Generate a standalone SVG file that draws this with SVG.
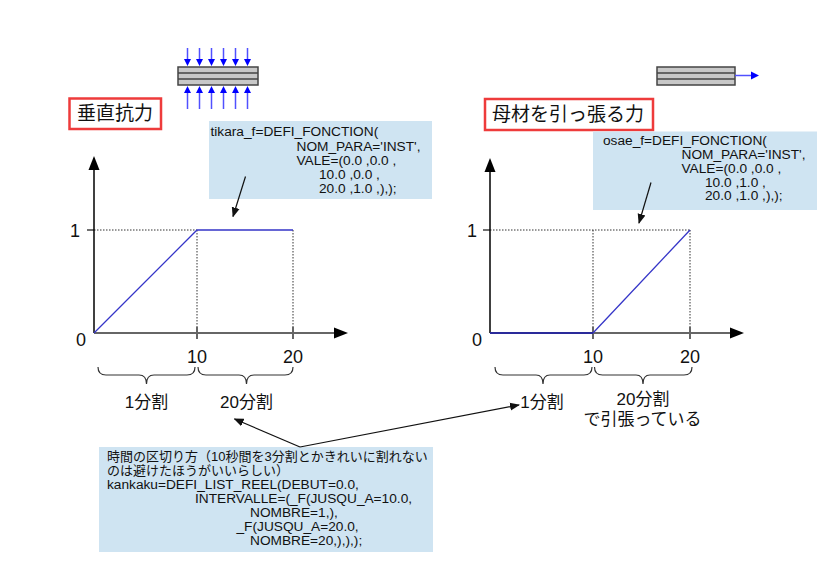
<svg xmlns="http://www.w3.org/2000/svg" width="828" height="562" viewBox="0 0 828 562">
<style>
.code{font-family:"Liberation Sans","Noto Sans CJK JP",sans-serif;font-size:13.7px;fill:#111}
.jp{font-size:13px}
.title{font-family:"Noto Sans CJK JP",sans-serif;font-size:19px;fill:#111}
.lbl{font-family:"Liberation Sans","Noto Sans CJK JP",sans-serif;font-size:17px;fill:#111;text-anchor:middle}
.num{font-family:"Liberation Sans",sans-serif;font-size:18px;fill:#111;text-anchor:middle}
.box{fill:#cfe4f2;stroke:none}
.tbox{fill:#fff;stroke:#ee3b3b;stroke-width:2.5}
.beam{fill:#c8c8c8;stroke:#444;stroke-width:1.5}
.bl{stroke:#5050ff;stroke-width:1.5;fill:none}
.dot{stroke:#333;stroke-width:1;stroke-dasharray:1.5,1.5;fill:none}
.xax{stroke:#666;stroke-width:2;fill:none}
.yax{stroke:#000;stroke-width:1.5;fill:none}
.fn{stroke:#3535c8;stroke-width:1.3;fill:none}
.brace{stroke:#333;stroke-width:1.2;fill:none}
.con{stroke:#111;stroke-width:1.2;fill:none}
</style>
<defs>
<marker id="ah" markerWidth="10" markerHeight="10" refX="9" refY="5" orient="auto" markerUnits="userSpaceOnUse">
<path d="M0,1 L10,5 L0,9 Z" fill="#111"/>
</marker>
</defs>

<g id="beam-left">
<rect class="beam" x="178" y="67" width="80" height="18"/>
<line x1="178" y1="73" x2="258" y2="73" stroke="#444" stroke-width="1.5"/>
<line x1="178" y1="79" x2="258" y2="79" stroke="#444" stroke-width="1.5"/>
<g id="press-arrows">
<path class="bl" d="M187.5,48V60 M199.5,48V60 M211.5,48V60 M223.5,48V60 M235.5,48V60 M247.5,48V60"/>
<path fill="#0000ff" d="M184,59h7l-3.5,7z M196,59h7l-3.5,7z M208,59h7l-3.5,7z M220,59h7l-3.5,7z M232,59h7l-3.5,7z M244,59h7l-3.5,7z"/>
<path class="bl" d="M187.5,92V109 M199.5,92V109 M211.5,92V109 M223.5,92V109 M235.5,92V109 M247.5,92V109"/>
<path fill="#0000ff" d="M184,93h7l-3.5,-7z M196,93h7l-3.5,-7z M208,93h7l-3.5,-7z M220,93h7l-3.5,-7z M232,93h7l-3.5,-7z M244,93h7l-3.5,-7z"/>
</g>
</g>

<g id="beam-right">
<rect class="beam" x="657" y="67" width="78" height="18"/>
<line x1="657" y1="73" x2="735" y2="73" stroke="#444" stroke-width="1.5"/>
<line x1="657" y1="79" x2="735" y2="79" stroke="#444" stroke-width="1.5"/>
<line class="bl" x1="735" y1="75.5" x2="752" y2="75.5"/>
<path fill="#0000ff" d="M751,71.5 L759,75.5 L751,79.5 Z"/>
</g>

<g id="title-left">
<rect class="tbox" x="69.5" y="98.5" width="91.5" height="30.5"/>
<text class="title" x="77" y="120">垂直抗力</text>
</g>
<g id="title-right">
<rect class="tbox" x="485" y="99" width="168" height="31"/>
<text class="title" x="492" y="120.5">母材を引っ張る力</text>
</g>

<g id="code-left">
<rect class="box" x="209" y="121" width="223" height="78"/>
<text class="code" x="210.5" y="136">tikara_f=DEFI_FONCTION(</text>
<text class="code" x="296.5" y="150.5">NOM_PARA='INST',</text>
<text class="code" x="296.5" y="164.5">VALE=(0.0 ,0.0 ,</text>
<text class="code" x="319" y="178.5">10.0 ,0.0 ,</text>
<text class="code" x="319" y="192.5">20.0 ,1.0 ,),);</text>
</g>

<g id="code-right">
<rect class="box" x="593" y="131.5" width="224" height="78.5"/>
<text class="code" x="603" y="145">osae_f=DEFI_FONCTION(</text>
<text class="code" x="681.5" y="159">NOM_PARA='INST',</text>
<text class="code" x="681.5" y="173">VALE=(0.0 ,0.0 ,</text>
<text class="code" x="705" y="186.5">10.0 ,1.0 ,</text>
<text class="code" x="705" y="200">20.0 ,1.0 ,),);</text>
</g>

<g id="chart-left">
<line class="dot" x1="94" y1="230" x2="197" y2="230"/>
<line class="dot" x1="197" y1="230" x2="197" y2="333"/>
<line class="dot" x1="293" y1="230" x2="293" y2="333"/>
<line x1="87" y1="230" x2="94" y2="230" stroke="#111" stroke-width="1.2"/>
<path class="xax" d="M94,333H335 M197,327V339 M293,327V339"/>
<path fill="#000" d="M334,327.5 L348,333 L334,338.5 Z"/>
<line class="yax" x1="94" y1="333" x2="94" y2="168"/>
<path fill="#000" d="M88.5,170 L94,156 L99.5,170 Z"/>
<polyline class="fn" points="94,333 197,230 293,230"/>
<text class="num" x="81" y="346">0</text>
<text class="num" x="75" y="237">1</text>
<text class="num" x="197" y="363">10</text>
<text class="num" x="293" y="363">20</text>
</g>

<g id="chart-right">
<line class="dot" x1="490" y1="230" x2="690" y2="230"/>
<line class="dot" x1="593" y1="230" x2="593" y2="333"/>
<line class="dot" x1="690" y1="230" x2="690" y2="333"/>
<line x1="483" y1="230" x2="490" y2="230" stroke="#111" stroke-width="1.2"/>
<path class="xax" d="M490,333H731 M593,327V339 M690,327V339"/>
<path fill="#000" d="M730,327.5 L744,333 L730,338.5 Z"/>
<line class="yax" x1="490" y1="333" x2="490" y2="170"/>
<path fill="#000" d="M484.5,172 L490,158 L495.5,172 Z"/>
<line x1="490" y1="333" x2="593" y2="333" stroke="#2a2a9a" stroke-width="2"/>
<line class="fn" x1="593" y1="333" x2="690" y2="230"/>
<text class="num" x="477" y="346">0</text>
<text class="num" x="472" y="237">1</text>
<text class="num" x="593" y="363">10</text>
<text class="num" x="690" y="363">20</text>
</g>

<g id="braces">
<path class="brace" d="M98,367 Q98,375 106,375 H139 Q146.5,375 146.5,384 Q146.5,375 154,375 H187 Q195,375 195,367"/>
<path class="brace" d="M198,367 Q198,375 206,375 H239 Q246.5,375 246.5,384 Q246.5,375 254,375 H285 Q293,375 293,367"/>
<path class="brace" d="M495,367 Q495,375 503,375 H536 Q543,375 543,384 Q543,375 550,375 H584 Q592,375 592,367"/>
<path class="brace" d="M594.5,367 Q594.5,375 602.5,375 H636 Q643,375 643,384 Q643,375 650,375 H684 Q692,375 692,367"/>
</g>

<g id="labels">
<text class="lbl" x="146.5" y="408">1分割</text>
<text class="lbl" x="246.5" y="408">20分割</text>
<text class="lbl" x="542" y="408">1分割</text>
<text class="lbl" x="643" y="405">20分割</text>
<text class="lbl" x="642.5" y="425">で引張っている</text>
</g>

<g id="code-bottom">
<rect class="box" x="99" y="447" width="334" height="105"/>
<text class="code" x="107" y="461"><tspan class="jp">時間の区切り方（10秒間を3分割とかきれいに割れない</tspan></text>
<text class="code" x="107" y="475"><tspan class="jp">のは避けたほうがいいらしい）</tspan></text>
<text class="code" x="107" y="489">kankaku=DEFI_LIST_REEL(DEBUT=0.0,</text>
<text class="code" x="195" y="503">INTERVALLE=(_F(JUSQU_A=10.0,</text>
<text class="code" x="250" y="517">NOMBRE=1,),</text>
<text class="code" x="236.5" y="531">_F(JUSQU_A=20.0,</text>
<text class="code" x="250" y="545">NOMBRE=20,),),);</text>
</g>

<g id="connectors">
<line class="con" x1="245.5" y1="176.5" x2="233" y2="216.5" marker-end="url(#ah)"/>
<line class="con" x1="651" y1="182.5" x2="639" y2="223" marker-end="url(#ah)"/>
<line class="con" x1="300" y1="447" x2="234.5" y2="419" marker-end="url(#ah)"/>
<line class="con" x1="300" y1="447" x2="519" y2="405" marker-end="url(#ah)"/>
</g>
</svg>
